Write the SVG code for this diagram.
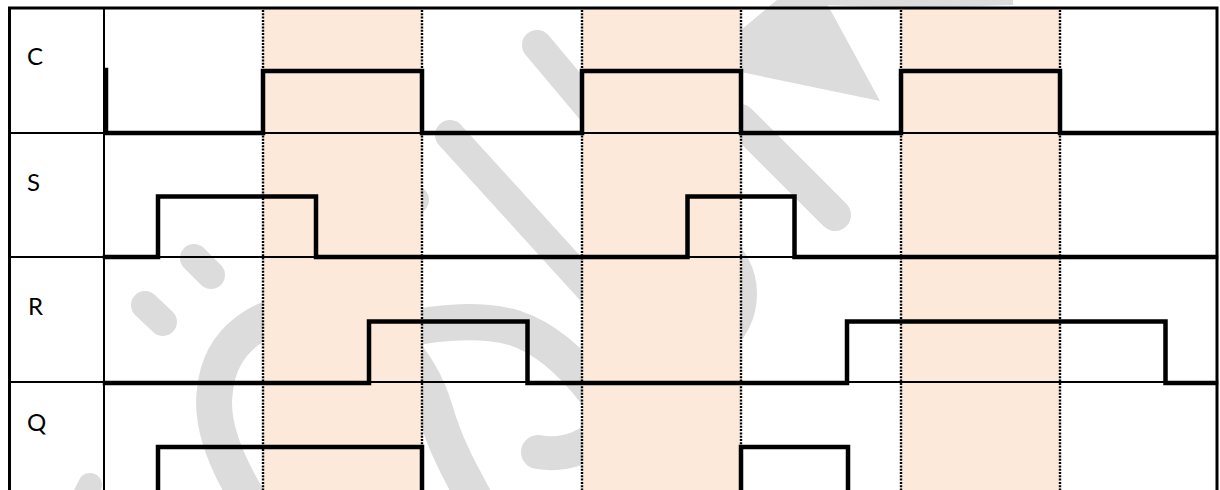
<svg xmlns="http://www.w3.org/2000/svg" width="1220" height="490" viewBox="0 0 1220 490">
  <style>
    .wm { fill: none; stroke: #dcdcdc; stroke-linecap: round; stroke-linejoin: round; }
    .wmf { fill: #dcdcdc; }
    .band { fill: #fce9da; }
    .grid { stroke: #000; stroke-width: 2; fill: none; }
    .border { stroke: #000; stroke-width: 3; fill: none; }
    .dot { stroke: #000; stroke-width: 2.4; stroke-dasharray: 2 1.3; fill: none; }
    .wave { stroke: #000; stroke-width: 4.5; fill: none; stroke-linejoin: miter; stroke-linecap: square; }
    .lbl { font-family: Lato, "Liberation Sans", sans-serif; font-size: 24px; fill: #000; }
  </style>
  <rect width="1220" height="490" fill="#fff"/>

  <g id="watermark">
    <path class="wm" stroke-width="28" d="M194,258 L211,275"/>
    <path class="wm" stroke-width="28" d="M145,305 L163,322"/>
    <path class="wm" stroke-width="36" d="M252,505 C225,462 210,422 215,390 C220,340 260,310 320,310 C380,312 420,360 435,410 C445,445 460,472 478,505"/>
    <path class="wm" stroke-width="36" d="M400,330 C440,322 480,318 515,328 C545,338 570,360 595,392"/>
    <path class="wm" stroke-width="30" d="M715,245 C750,265 752,320 715,345"/>
    <path class="wm" stroke-width="34" d="M612,420 C592,450 562,456 538,452"/>
    <path class="wm" stroke-width="30" d="M450,135 L600,300"/>
    <path class="wm" stroke-width="30" d="M537,45 L600,120"/>
    <path class="wm" stroke-width="28" d="M405,190 L415,200"/>
    <path class="wm" stroke-width="32" d="M740,120 L835,215"/>
    <polygon class="wmf" points="700,8 741,30 777,0 825,0 880,101 741,72 700,60"/>
    <path class="wmf" d="M820,0 H1013 V5 Q916,9 820,5 Z"/>
    <path class="wm" stroke-width="24" d="M90,485 L80,505"/>
  </g>

  <g id="bands">
    <rect class="band" x="263" y="9" width="159" height="481"/>
    <rect class="band" x="582" y="9" width="159" height="481"/>
    <rect class="band" x="901" y="9" width="159" height="481"/>
  </g>

  <g id="grid">
    <path class="grid" d="M10,133 H1217 M10,257 H1217 M10,382 H1217 M104,8 V490"/>
    <path class="border" d="M9.5,490 V8 H1217 V490"/>
    <path class="dot" d="M263,10 V490 M422,10 V490 M582,10 V490 M741,10 V490 M901,10 V490 M1060,10 V490"/>
  </g>

  <g id="row-C">
    <text class="lbl" x="27" y="65">C</text>
    <path class="wave" d="M106,70 V133 H263 V71 H422 V133 H582 V71 H741 V133 H901 V71 H1060 V133 H1216"/>
  </g>
  <g id="row-S">
    <text class="lbl" x="27" y="191">S</text>
    <path class="wave" d="M105,257 H158 V196.5 H316 V257 H687.5 V196.5 H794.5 V257 H1216"/>
  </g>
  <g id="row-R">
    <text class="lbl" x="28" y="315">R</text>
    <path class="wave" d="M105,383 H369 V321.5 H527.5 V383 H847 V321.5 H1165.5 V383 H1216"/>
  </g>
  <g id="row-Q">
    <text class="lbl" x="27" y="431">Q</text>
    <path class="wave" d="M158,495 V447 H422 V495 M741,495 V447 H848 V495"/>
  </g>
</svg>
